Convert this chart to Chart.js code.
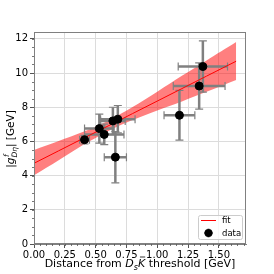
<!DOCTYPE html>
<html>
<head>
<meta charset="utf-8">
<script src="https://cdn.jsdelivr.net/npm/chart.js@4.4.0/dist/chart.umd.min.js"></script>
<style>
    html, body { margin: 0; padding: 0; background: #fff; }
    #wrap { width: 274px; height: 274px; }
</style>
</head>
<body>
<div id="wrap"><canvas id="fitChart" width="274" height="274"></canvas></div>
<script>
// measured points (distance from threshold, coupling)
const dataX = [0.41, 0.53, 0.57, 0.64, 0.68, 0.66, 1.18, 1.34, 1.37];
const dataY = [6.10, 6.75, 6.41, 7.20, 7.30, 5.08, 7.53, 9.24, 10.38];
const errX = [0.04, 0.12, 0.16, 0.10, 0.14, 0.09, 0.125, 0.21, 0.20];
const errY = [0.25, 0.85, 0.60, 0.80, 0.80, 1.50, 1.45, 1.35, 1.50];

// linear fit and its band
const fitX = [0, 0.2, 0.4, 0.6, 0.8, 1.0, 1.2, 1.4, 1.64];
const fitY = [4.72, 5.45, 6.18, 6.90, 7.63, 8.36, 9.09, 9.82, 10.69];
const bandLow = [4.02, 4.90, 5.80, 6.60, 7.25, 7.81, 8.34, 8.90, 9.59];
const bandHigh = [5.50, 6.02, 6.56, 7.20, 8.01, 8.91, 9.84, 10.74, 11.81];

const xTicks = [0, 0.25, 0.5, 0.75, 1.0, 1.25, 1.5];
const yTicks = [0, 2, 4, 6, 8, 10, 12];

const FONT = 'DejaVu Sans';

function pts(xs, ys) {
    return xs.map((x, i) => ({ x: x, y: ys[i] }));
}

// error bars, minor ticks, axis titles and legend
const extras = {
    id: 'extras',
    afterDatasetDraw(chart, args) {
        if (args.index !== 2) return;
        const ctx = chart.ctx;
        const xs = chart.scales.x, ys = chart.scales.y;
        ctx.save();
        ctx.strokeStyle = '#808080';
        ctx.lineWidth = 2.5;
        dataX.forEach((x, i) => {
            const y = dataY[i];
            const px = xs.getPixelForValue(x), py = ys.getPixelForValue(y);
            const x0 = xs.getPixelForValue(x - errX[i]), x1 = xs.getPixelForValue(x + errX[i]);
            const y0 = ys.getPixelForValue(y - errY[i]), y1 = ys.getPixelForValue(y + errY[i]);
            ctx.beginPath();
            ctx.moveTo(x0, py); ctx.lineTo(x1, py);
            ctx.moveTo(px, y0); ctx.lineTo(px, y1);
            ctx.stroke();
            ctx.lineWidth = 1.2;
            ctx.beginPath();
            ctx.moveTo(x0, py - 4); ctx.lineTo(x0, py + 4);
            ctx.moveTo(x1, py - 4); ctx.lineTo(x1, py + 4);
            ctx.moveTo(px - 4, y0); ctx.lineTo(px + 4, y0);
            ctx.moveTo(px - 4, y1); ctx.lineTo(px + 4, y1);
            ctx.stroke();
            ctx.lineWidth = 2.5;
        });
        ctx.restore();
    },
    afterDraw(chart) {
        const ctx = chart.ctx;
        const xs = chart.scales.x, ys = chart.scales.y;
        const a = chart.chartArea;
        ctx.save();
        // full frame
        ctx.strokeStyle = '#808080';
        ctx.lineWidth = 1;
        ctx.strokeRect(Math.round(a.left) + 0.5, Math.round(a.top) + 0.5,
            Math.round(a.right - a.left) - 1, Math.round(a.bottom - a.top) - 1);

        // minor ticks
        ctx.strokeStyle = '#555';
        ctx.lineWidth = 0.8;
        ctx.beginPath();
        for (let v = 0.05; v < xs.max; v += 0.05) {
            const p = Math.round(xs.getPixelForValue(v)) + 0.5;
            ctx.moveTo(p, a.bottom); ctx.lineTo(p, a.bottom + 2);
        }
        for (let v = 0.5; v < ys.max; v += 0.5) {
            const p = Math.round(ys.getPixelForValue(v)) + 0.5;
            ctx.moveTo(a.left, p); ctx.lineTo(a.left - 2, p);
        }
        ctx.stroke();

        // x title
        ctx.fillStyle = '#000';
        ctx.textBaseline = 'alphabetic';
        const base = 267;
        const parts = [
            ['Distance from ', '11px ' + FONT, 0],
            ['D', 'italic 11px ' + FONT, 0],
            ['s', 'italic 8px ' + FONT, 2.5],
            ['K', 'italic 11px ' + FONT, 0],
            [' threshold [GeV]', '11px ' + FONT, 0]
        ];
        let total = 0;
        parts.forEach(p => { ctx.font = p[1]; total += ctx.measureText(p[0]).width; });
        let cx = (a.left + a.right) / 2 - total / 2;
        parts.forEach(p => {
            ctx.font = p[1];
            const w = ctx.measureText(p[0]).width;
            ctx.fillText(p[0], cx, base + p[2]);
            if (p[0] === 'K') {
                ctx.strokeStyle = '#000';
                ctx.lineWidth = 0.8;
                ctx.beginPath();
                ctx.moveTo(cx + 2, base - 10); ctx.lineTo(cx + w, base - 10);
                ctx.stroke();
            }
            cx += w;
        });

        // y title
        ctx.save();
        ctx.translate(13.5, 139);
        ctx.rotate(-Math.PI / 2);
        const big = '10.5px ' + FONT, ibig = 'italic 10.5px ' + FONT, ism = 'italic 7.5px ' + FONT;
        const segs = [['|', big], ['g', ibig]];
        let w = 0;
        segs.forEach(s => { ctx.font = s[1]; w += ctx.measureText(s[0]).width; });
        ctx.font = ism;
        const subW = ctx.measureText('D\u03B7').width;
        ctx.font = big;
        const tailW = ctx.measureText('| [GeV]').width;
        let tx = -(w + subW + tailW) / 2;
        segs.forEach(s => { ctx.font = s[1]; ctx.fillText(s[0], tx, 0); tx += ctx.measureText(s[0]).width; });
        ctx.font = ism;
        ctx.fillText('f', tx + 0.5, -5);
        ctx.fillText('D\u03B7', tx, 3);
        tx += subW;
        ctx.font = big;
        ctx.fillText('| [GeV]', tx, 0);
        ctx.restore();

        // legend
        const lx = 198, ly = 215;
        ctx.fillStyle = 'rgba(255,255,255,0.8)';
        ctx.strokeStyle = '#cccccc';
        ctx.lineWidth = 1;
        ctx.beginPath();
        ctx.roundRect(lx + 0.5, ly + 0.5, 44, 24, 2);
        ctx.fill();
        ctx.stroke();
        ctx.strokeStyle = 'red';
        ctx.lineWidth = 1;
        ctx.beginPath();
        ctx.moveTo(lx + 3, ly + 5.5); ctx.lineTo(lx + 18, ly + 5.5);
        ctx.stroke();
        ctx.strokeStyle = '#808080';
        ctx.lineWidth = 2;
        ctx.beginPath();
        ctx.moveTo(lx + 6, ly + 18); ctx.lineTo(lx + 15, ly + 18);
        ctx.moveTo(lx + 10.5, ly + 13.5); ctx.lineTo(lx + 10.5, ly + 22.5);
        ctx.stroke();
        ctx.fillStyle = '#000';
        ctx.beginPath();
        ctx.arc(lx + 10.5, ly + 18, 4, 0, Math.PI * 2);
        ctx.fill();
        ctx.font = '8.5px ' + FONT;
        ctx.textBaseline = 'middle';
        ctx.fillText('fit', lx + 24, ly + 6);
        ctx.fillText('data', lx + 24, ly + 18.5);
        ctx.restore();
    }
};

const ctx = document.getElementById('fitChart').getContext('2d');
new Chart(ctx, {
    type: 'scatter',
    data: {
        datasets: [
            {
                label: 'data',
                data: pts(dataX, dataY),
                backgroundColor: '#000',
                borderColor: '#000',
                pointRadius: 4,
                pointHoverRadius: 4
            },
            {
                label: 'fit',
                type: 'line',
                data: pts(fitX, fitY),
                borderColor: 'red',
                borderWidth: 1,
                pointRadius: 0,
                fill: false
            },
            {
                label: 'band high',
                type: 'line',
                data: pts(fitX, bandHigh),
                borderWidth: 0,
                borderColor: 'rgba(0,0,0,0)',
                backgroundColor: 'rgba(255,0,0,0.5)',
                pointRadius: 0,
                tension: 0.3,
                fill: '+1'
            },
            {
                label: 'band low',
                type: 'line',
                data: pts(fitX, bandLow),
                borderWidth: 0,
                borderColor: 'rgba(0,0,0,0)',
                pointRadius: 0,
                tension: 0.3,
                fill: false
            }
        ]
    },
    options: {
        responsive: false,
        animation: false,
        events: [],
        layout: { padding: { left: 0, top: 32, right: 28, bottom: 0 } },
        plugins: {
            legend: { display: false },
            tooltip: { enabled: false }
        },
        scales: {
            x: {
                type: 'linear',
                min: 0,
                max: 1.72,
                afterFit: s => { s.height = 30; },
                afterBuildTicks: s => { s.ticks = xTicks.map(v => ({ value: v })); },
                ticks: {
                    font: { family: FONT, size: 10 },
                    color: '#000',
                    padding: 1,
                    maxRotation: 0,
                    callback: v => v.toFixed(2)
                },
                grid: { color: '#dcdcdc', tickColor: '#555', tickLength: 4, lineWidth: 1 },
                border: { color: '#808080', width: 1 }
            },
            y: {
                type: 'linear',
                min: 0,
                max: 12.4,
                afterFit: s => { s.width = 34; },
                afterBuildTicks: s => { s.ticks = yTicks.map(v => ({ value: v })); },
                ticks: {
                    font: { family: FONT, size: 10 },
                    color: '#000',
                    padding: 2
                },
                grid: { color: '#dcdcdc', tickColor: '#555', tickLength: 4, lineWidth: 1 },
                border: { color: '#808080', width: 1 }
            }
        }
    },
    plugins: [extras]
});
</script>
</body>
</html>
